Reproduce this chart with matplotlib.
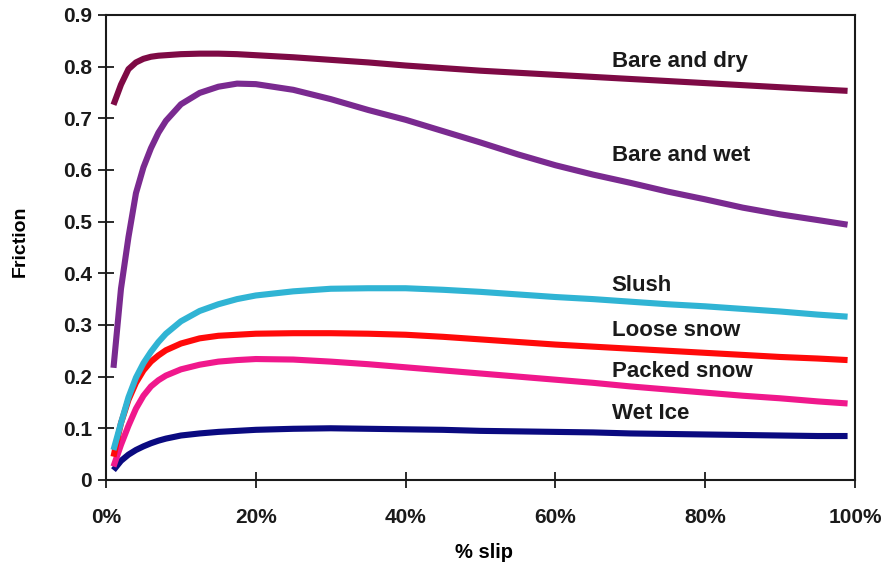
import matplotlib
matplotlib.use("Agg")
import matplotlib.pyplot as plt
from matplotlib.ticker import FuncFormatter, MultipleLocator

plt.rcParams["font.family"] = ["Liberation Sans", "DejaVu Sans"]
plt.rcParams["font.weight"] = "bold"

# % slip sample points
slip = [1, 2, 3, 4, 5, 6, 7, 8, 10, 12.5, 15, 17.5, 20, 25, 30, 35, 40, 45, 50,
        55, 60, 65, 70, 75, 80, 85, 90, 95, 99]

bare_dry = [0.726, 0.765, 0.795, 0.808, 0.815, 0.819, 0.821, 0.822, 0.824, 0.825,
            0.825, 0.824, 0.822, 0.818, 0.813, 0.808, 0.802, 0.797, 0.792, 0.788,
            0.784, 0.780, 0.776, 0.772, 0.768, 0.764, 0.760, 0.756, 0.753]
bare_wet = [0.217, 0.37, 0.47, 0.555, 0.605, 0.642, 0.672, 0.695, 0.727, 0.749,
            0.761, 0.767, 0.766, 0.755, 0.737, 0.716, 0.697, 0.675, 0.653, 0.630,
            0.609, 0.591, 0.575, 0.558, 0.543, 0.527, 0.514, 0.503, 0.494]
slush = [0.058, 0.11, 0.16, 0.198, 0.226, 0.248, 0.267, 0.283, 0.307, 0.327,
         0.340, 0.350, 0.357, 0.365, 0.370, 0.371, 0.371, 0.368, 0.364, 0.359,
         0.354, 0.350, 0.345, 0.340, 0.336, 0.331, 0.326, 0.320, 0.316]
loose_snow = [0.045, 0.11, 0.155, 0.188, 0.212, 0.229, 0.241, 0.251, 0.264, 0.274,
              0.279, 0.281, 0.283, 0.284, 0.284, 0.283, 0.281, 0.277, 0.272, 0.267,
              0.262, 0.258, 0.254, 0.250, 0.246, 0.242, 0.238, 0.235, 0.232]
packed_snow = [0.026, 0.068, 0.105, 0.138, 0.163, 0.181, 0.193, 0.202, 0.214, 0.223,
               0.229, 0.232, 0.234, 0.233, 0.229, 0.224, 0.218, 0.212, 0.206, 0.200,
               0.194, 0.188, 0.181, 0.175, 0.169, 0.163, 0.158, 0.152, 0.148]
wet_ice = [0.019, 0.037, 0.049, 0.058, 0.065, 0.071, 0.076, 0.080, 0.086, 0.090,
           0.093, 0.095, 0.097, 0.099, 0.100, 0.099, 0.098, 0.097, 0.095, 0.094,
           0.093, 0.092, 0.090, 0.089, 0.088, 0.087, 0.086, 0.085, 0.085]

names = ["Bare and dry", "Bare and wet", "Wet Ice", "Packed snow", "Loose snow", "Slush"]
series = [bare_dry, bare_wet, wet_ice, packed_snow, loose_snow, slush]
colors = ["#7e0a45", "#7a2a90", "#0a0a80", "#f0188c", "#ff0a0a", "#30b4d4"]
# label anchor (x in %, y in friction)
label_x = [67.5, 67.5, 67.5, 67.5, 67.5, 67.5]
label_y = [0.809, 0.627, 0.129, 0.210, 0.290, 0.377]

fig = plt.figure(figsize=(8.87, 5.62), dpi=100)
ax = fig.add_axes([0.1195, 0.146, 0.8445, 0.8275])

for name, ys, c, lx, ly in zip(names, series, colors, label_x, label_y):
    ax.plot(slip, ys, color=c, lw=4.4, solid_capstyle="butt", solid_joinstyle="round")
    ax.text(lx, ly, name, fontsize=16, fontweight="bold", color="#1a1a1a",
            va="center", ha="left")

ax.set_xlim(0, 100)
ax.set_ylim(0, 0.9)
ax.xaxis.set_major_locator(MultipleLocator(20))
ax.yaxis.set_major_locator(MultipleLocator(0.1))
ax.xaxis.set_major_formatter(FuncFormatter(lambda v, p: f"{v:.0f}%"))
ax.yaxis.set_major_formatter(FuncFormatter(lambda v, p: "0" if v == 0 else f"{v:.1f}"))
ax.tick_params(direction="inout", length=12, width=1.3, labelsize=15, colors="#1a1a1a")
ax.tick_params(axis="x", pad=14)
ax.tick_params(axis="y", pad=4)
for lbl in ax.get_xticklabels() + ax.get_yticklabels():
    lbl.set_fontweight("bold")
for s in ax.spines.values():
    s.set_linewidth(1.5)
    s.set_color("#1a1a1a")

ax.set_xlabel("% slip", fontsize=14.5, fontweight="bold", va="center")
ax.xaxis.set_label_coords(0.505, -0.155)
ax.set_ylabel("Friction", fontsize=14, fontweight="bold", va="center")
ax.yaxis.set_label_coords(-0.115, 0.514)

fig.savefig("out.png", dpi=100)
